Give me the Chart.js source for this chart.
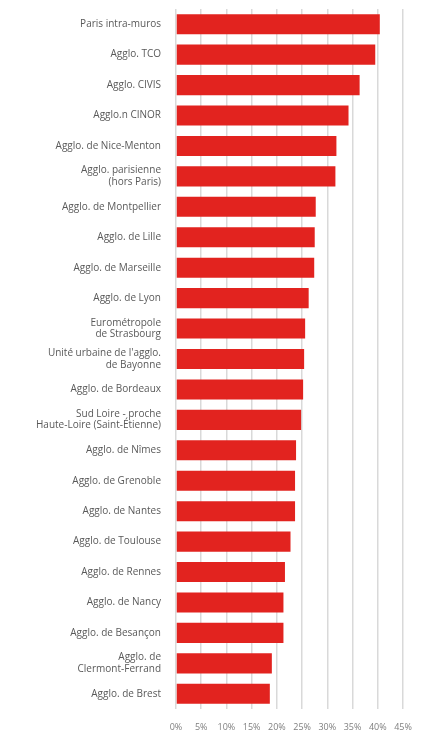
<!DOCTYPE html>
<html lang="fr">
<head>
    <meta charset="UTF-8">
    <title>chart</title>
    <style>
        html, body { margin: 0; padding: 0; background: #fff; }
        #wrap { width: 422px; height: 734px; }
    </style>
</head>
<body>
    <div id="wrap"><canvas id="myChart"></canvas></div>
    <script src="https://cdn.jsdelivr.net/npm/chart.js"></script>
    <script>
        let labels = [
            'Paris intra-muros',
            'Agglo. TCO',
            'Agglo. CIVIS',
            'Agglo.n CINOR',
            'Agglo. de Nice-Menton',
            ['Agglo. parisienne', '(hors Paris)'],
            'Agglo. de Montpellier',
            'Agglo. de Lille',
            'Agglo. de Marseille',
            'Agglo. de Lyon',
            ['Eurométropole', 'de Strasbourg'],
            ['Unité urbaine de l\'agglo.', 'de Bayonne'],
            'Agglo. de Bordeaux',
            ['Sud Loire - proche', 'Haute-Loire (Saint-Étienne)'],
            'Agglo. de Nîmes',
            'Agglo. de Grenoble',
            'Agglo. de Nantes',
            'Agglo. de Toulouse',
            'Agglo. de Rennes',
            'Agglo. de Nancy',
            'Agglo. de Besançon',
            ['Agglo. de', 'Clermont-Ferrand'],
            'Agglo. de Brest'
        ];
        let values = [40.4, 39.5, 36.4, 34.2, 31.8, 31.6, 27.7, 27.5, 27.4, 26.3, 25.6, 25.4, 25.2, 24.8, 23.8, 23.6, 23.6, 22.7, 21.6, 21.3, 21.3, 19.0, 18.6];
        let xTicks = ['0%', '5%', '10%', '15%', '20%', '25%', '30%', '35%', '40%', '45%'];

        let ctx = document.getElementById('myChart');
        let myChart = new Chart(ctx, {
            type: 'bar',
            data: {
                labels: labels,
                datasets: [{
                    data: values,
                    backgroundColor: '#e2231f',
                    borderWidth: 0,
                    barPercentage: 0.66,
                    categoryPercentage: 1
                }]
            },
            options: {
                indexAxis: 'y',
                responsive: true,
                maintainAspectRatio: false,
                animation: false,
                layout: { padding: { top: 9, right: 19, left: 0, bottom: 0 } },
                plugins: {
                    legend: { display: false },
                    tooltip: { enabled: false }
                },
                scales: {
                    x: {
                        min: 0,
                        max: 45,
                        ticks: {
                            stepSize: 5,
                            padding: 13,
                            color: '#7f7f7f',
                            font: { family: 'Open Sans', size: 9 },
                            maxRotation: 0,
                            callback: (v, i) => xTicks[i]
                        },
                        grid: { color: '#d9d9d9', lineWidth: 1.5, drawTicks: false },
                        border: { display: false },
                        afterFit: s => { s.height = 25; s.paddingLeft = 0; s.paddingRight = 0; }
                    },
                    y: {
                        ticks: {
                            padding: 15,
                            color: '#595959',
                            autoSkip: false,
                            font: { family: 'Open Sans', size: 10, lineHeight: 1.15 }
                        },
                        grid: { display: false, drawTicks: false },
                        border: { display: false },
                        afterFit: s => { s.width = 176; s.paddingTop = 0; s.paddingBottom = 0; }
                    }
                }
            }
        });
    </script>
</body>
</html>
